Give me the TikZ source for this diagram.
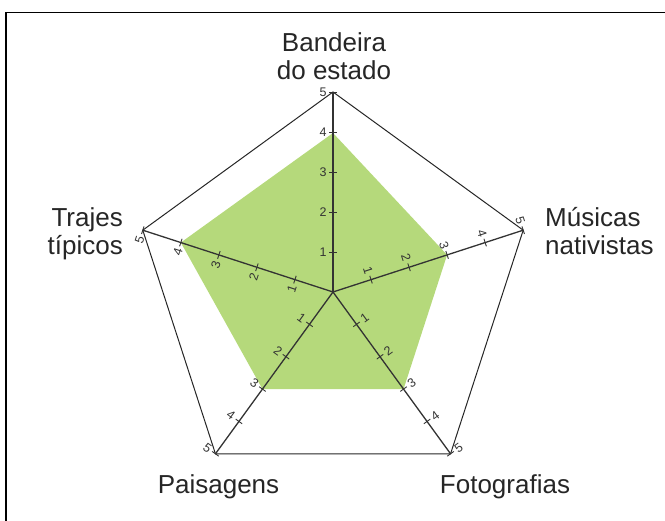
\documentclass[tikz,border=0pt]{standalone}
\usepackage{fontspec}
\setmainfont{Liberation Sans}
\definecolor{areagreen}{RGB}{181,217,123}
\begin{document}
\begin{tikzpicture}[x=1pt,y=1pt,
  axisline/.style={line width=1.3pt, draw=black!80},
  rim/.style={line width=1pt, draw=black!85},
  tickmark/.style={line width=0.9pt, draw=black!80},
  ticklabel/.style={font=\fontsize{12.5}{12.5}\selectfont, text=black!80, inner sep=0pt},
  category/.style={font=\fontsize{26}{28}\selectfont, text=black!85, inner sep=0pt},
  frameline/.style={line width=1.6pt, draw=black}]
\useasboundingbox (-333,-229) rectangle (332,292);
\draw[frameline] (-327,-229) -- (-327,279.5) -- (332,279.5);
\coordinate (c) at (0,0);
\foreach \n/\a in {1/90,2/18,3/-54,4/234,5/162}{\coordinate (v\n) at (\a:200);}
\fill[areagreen] (90:159) -- (18:120) -- (-54:120) -- (234:120) -- (162:160) -- cycle;
\draw[rim] (v1) -- (v2) -- (v3) -- (v4) -- (v5) -- cycle;
\foreach \n in {1,...,5} \draw[axisline] (c) -- (v\n);
\foreach \a/\s/\r [count=\i] in {90/1/0, 18/1/-72, -54/1/36, 234/-1/-36, 162/1/72}{
  \begin{scope}[rotate=\a]
  \foreach \k in {1,...,5}{
    \draw[tickmark] (\k*40,-4) -- (\k*40,4);
    \node[ticklabel, rotate=\r] (t\i\k) at (\k*40, \s*10) {\k};
  }
  \end{scope}
}
\node[category, align=center, anchor=base] (bandeira) at (1,212) {Bandeira\\do estado};
\node[category, align=left, anchor=base west] (musicas) at (212,37) {Músicas\\nativistas};
\node[category, align=right, anchor=base east] (trajes) at (-210,37) {Trajes\\típicos};
\node[category, anchor=base] (paisagens) at (-114.5,-202) {Paisagens};
\node[category, anchor=base] (fotografias) at (172,-202) {Fotografias};
\end{tikzpicture}
\end{document}
